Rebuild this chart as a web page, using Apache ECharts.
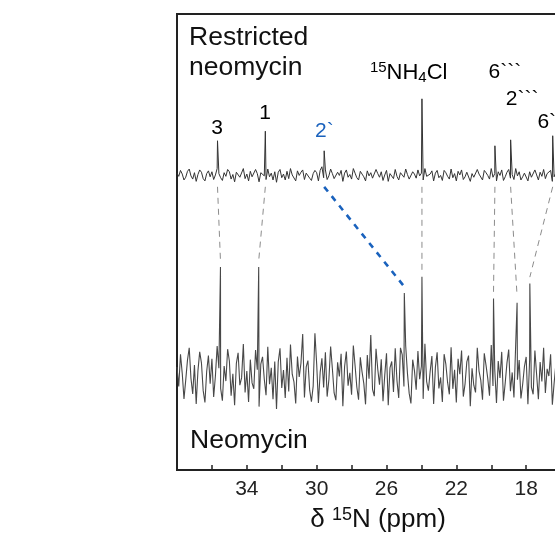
<!DOCTYPE html>
<html><head><meta charset="utf-8">
<script src="https://cdn.jsdelivr.net/npm/echarts@6/dist/echarts.min.js"></script>
<style>html,body{margin:0;padding:0;background:#fff}#c{width:555px;height:535px}</style>
</head><body><div id="c"></div>
<script>
// ---- data (ppm axis sampled from 38 ppm downward, 0.1 ppm per point) ----
const ppmStart = 38, ppmStep = 0.1;
// Restricted neomycin trace: baseline noise (arbitrary intensity units)
const topNoise = [
0.4,-0.3,1.0,0.2,-1.1,-0.5,0.8,1.3,-0.2,-0.9,0.5,-1.4,0.1,1.1,0.6,-0.8,-1.3,0.3,0.9,-0.4,
0.7,-1.0,0.0,1.4,0.3,-0.6,-1.2,0.5,-0.3,1.2,0.7,-0.9,0.1,-1.5,0.6,1.0,-0.5,-0.1,1.4,-0.8,
0.2,-1.3,0.8,-0.4,-0.7,1.2,0.3,-1.5,0.5,0.9,-0.2,-1.0,1.3,-0.4,0.4,-1.1,0.7,-1.6,0.6,1.2,
-0.6,0.2,-1.1,0.8,-0.8,1.4,0.0,-0.3,-1.3,0.9,-0.1,0.6,1.1,-1.0,0.4,0.7,-0.7,-1.2,0.3,1.0,
0.5,-1.3,1.0,1.8,-0.6,1.1,-1.0,-0.2,1.3,0.3,-0.8,-1.2,0.6,-0.1,1.0,-1.4,0.4,1.1,-0.5,0.1,
-0.9,1.4,0.4,-0.6,-1.1,0.8,0.2,-0.4,-1.3,0.9,-0.2,0.5,-0.7,-1.0,1.2,0.3,-0.5,0.7,-1.2,0.0,
1.0,-1.4,0.3,0.6,-0.8,1.2,-0.3,-1.1,0.5,0.9,-0.5,1.3,0.1,-0.9,-1.3,0.7,0.2,-0.7,1.1,-0.2,
0.4,-1.1,1.4,-0.3,-0.7,0.2,0.9,-1.3,0.4,1.0,-0.6,-0.1,-1.2,1.0,0.5,-0.3,-0.9,1.3,-0.6,0.3,
-1.3,0.8,0.0,1.1,-1.0,-0.4,0.6,0.9,-1.4,0.3,-0.5,-0.8,1.2,0.2,-0.2,-1.1,1.0,0.5,-0.1,-0.9,
1.4,-0.5,0.3,-1.3,0.7,-0.1,1.1,-1.2,-0.4,0.6,1.2,-0.7,0.1,-1.0,1.4,-0.2,0.7,-1.1,-0.4,0.4,
0.8,-1.3,0.7,-0.5,-0.9,1.1,0.0,-1.1,0.6,-0.3,1.2,-0.8,0.3,0.0,1.0,-1.4,-0.4,0.5,1.2,-0.7,
0.2
];
// Neomycin trace: baseline noise (arbitrary intensity units)
const bottomNoise = [
1.8,-2.5,4.6,0.4,-5.2,-1.1,3.3,6.0,-0.7,-4.1,2.2,-6.3,1.0,5.1,2.7,-3.4,-6.0,0.8,4.3,-1.9,
3.6,-4.8,-0.2,6.4,1.5,-2.9,-5.6,2.0,-1.3,5.7,3.1,-4.5,0.3,-6.6,2.6,4.9,-2.2,-0.6,6.8,-3.8,
0.9,-5.9,3.4,-1.7,-3.0,5.5,1.2,-6.9,2.4,4.0,-0.9,-4.4,6.2,-2.0,1.6,-5.3,3.0,-7.4,2.9,5.9,
-2.8,1.1,-5.0,3.8,-3.6,6.7,0.2,-1.5,-6.2,4.1,-0.4,2.6,9.0,-4.9,1.8,3.2,-3.3,-5.8,-2.4,9.2,
2.5,-6.1,0.6,3.7,-2.7,5.0,-4.7,-1.0,6.3,1.4,-3.9,-5.5,2.8,-0.3,4.7,-6.8,1.9,5.2,-2.3,0.5,
-4.3,6.5,2.1,-2.6,-5.4,3.9,0.7,-1.8,-6.4,4.4,-0.8,8.8,-3.1,-4.6,5.8,1.3,-2.1,3.5,-5.7,0.0,
4.8,-6.6,1.6,3.0,-3.7,5.9,-1.2,-5.0,6.0,4.5,-2.5,6.4,0.4,-4.0,-6.2,3.4,1.0,-3.2,5.3,-0.9,
2.0,-5.2,6.9,-1.4,-3.4,0.8,4.2,-6.3,1.7,5.0,-2.9,-0.5,-5.9,4.6,2.4,-1.6,-4.2,6.1,-3.0,1.2,
-6.0,3.6,0.2,5.4,-4.7,-1.9,2.9,4.3,-6.8,1.5,-2.2,-3.8,6.0,0.9,-1.1,-5.4,4.8,2.2,-0.7,-4.5,
6.6,-2.4,1.3,-6.1,3.1,-0.6,5.1,-5.6,-1.7,2.7,5.6,-3.5,0.6,-4.9,6.7,-1.0,3.3,-5.1,-2.0,1.9,
4.0,-6.4,3.5,-2.6,-4.2,5.4,0.1,-5.3,2.9,-1.4,6.0,-3.9,1.4,-0.2,4.6,-6.5,-1.8,2.4,5.6,-3.6,
1.0
];
// peaks (ppm, height above baseline)
const topPeakPpm    = [35.68, 32.94, 29.57, 23.97, 19.79, 18.89, 16.48];
const topPeakHeight = [7.5, 9.6, 5.3, 16.7, 6.4, 7.7, 8.6];
const bottomPeakPpm    = [35.51, 33.32, 24.98, 23.97, 19.87, 18.52, 17.79];
const bottomPeakHeight = [23.7, 23.7, 18.0, 21.6, 16.8, 15.9, 20.1];
const xTickLabels = [34, 30, 26, 22, 18, 14];

// ---- layout / style ----
const FONT = 'Liberation Sans, Arial, Helvetica, sans-serif';
const topOffset = 64.7, bottomOffset = 20.8;

function buildTrace(noise, peakPpm, peakH, offset) {
  const pts = noise.map((n, i) => [+(ppmStart - i * ppmStep).toFixed(2), offset + n]);
  peakPpm.forEach((p, k) => pts.push([p, offset + peakH[k]]));
  pts.sort((a, b) => b[0] - a[0]);
  return pts;
}

const series = [
  { type: 'line', data: buildTrace(topNoise, topPeakPpm, topPeakHeight, topOffset),
    symbol: 'none', silent: true, lineStyle: { color: '#333', width: 1 }, z: 3 },
  { type: 'line', data: buildTrace(bottomNoise, bottomPeakPpm, bottomPeakHeight, bottomOffset),
    symbol: 'none', silent: true, lineStyle: { color: '#484848', width: 1.1 }, z: 3 }
];

topPeakPpm.forEach((p, k) => {
  const blue = k === 2;
  series.push({
    type: 'line', symbol: 'none', silent: true, z: 2,
    data: [[p, topOffset - 2.6], [bottomPeakPpm[k], bottomOffset + bottomPeakHeight[k] + 1.4]],
    lineStyle: blue ? { color: '#1a62bd', width: 2.6, type: [6, 6] }
                    : { color: '#8c8c8c', width: 1, type: [6, 5] }
  });
});

const labelItems = [
  { value: [35.71, 74.9], txt: '3' },
  { value: [32.96, 78.2], txt: '1' },
  { value: [29.56, 74.2], txt: '2`', label: { color: '#1a62bd' } },
  { value: [24.73, 87.1], txt: '{sup|15}{m|NH}{sub|4}{m|Cl}' },
  { value: [19.22, 87.2], txt: '6```' },
  { value: [18.23, 81.3], txt: '2```' },
  { value: [16.82, 76.2], txt: '6`' }
];
series.push({
  type: 'scatter', symbolSize: 1, silent: true, z: 5,
  itemStyle: { color: '#fff', opacity: 0 },
  data: labelItems,
  label: {
    show: true, position: 'inside', formatter: p => p.data.txt,
    fontFamily: FONT, fontSize: 21, color: '#000', opacity: 1,
    textBorderWidth: 0, textShadowBlur: 0,
    rich: {
      m: { fontFamily: FONT, fontSize: 22, color: '#000' },
      sup: { fontFamily: FONT, fontSize: 15, color: '#000', padding: [0, 0, 9, 0] },
      sub: { fontFamily: FONT, fontSize: 15, color: '#000', padding: [10, 0, 0, 0] }
    }
  }
});

const chart = echarts.init(document.getElementById('c'), null, { renderer: 'canvas' });
chart.setOption({
  animation: false,
  backgroundColor: '#fff',
  grid: { left: 177, width: 419, top: 14, bottom: 65, show: true, containLabel: false,
          outerBoundsMode: 'none',
          borderColor: '#222', borderWidth: 2, backgroundColor: 'rgba(0,0,0,0)' },
  xAxis: {
    type: 'value', min: 14, max: 38, interval: 2, inverse: true,
    axisLine: { show: true, lineStyle: { color: '#222', width: 2 } },
    axisTick: { show: true, inside: true, length: 5, lineStyle: { color: '#222', width: 1.5 } },
    axisLabel: { fontFamily: FONT, fontSize: 21, color: '#222', margin: 9,
                 formatter: v => xTickLabels.includes(v) ? String(v) : '' },
    splitLine: { show: false },
    name: '{d|δ }{s|15}{n|N (ppm)}', nameLocation: 'middle', nameGap: 36,
    nameTextStyle: {
      padding: [0, 17, 0, 0],
      rich: {
        d: { fontFamily: FONT, fontSize: 26, color: '#111' },
        s: { fontFamily: FONT, fontSize: 18, color: '#111', padding: [0, 0, 9, 0] },
        n: { fontFamily: FONT, fontSize: 26, color: '#111' }
      }
    }
  },
  yAxis: { type: 'value', min: 0, max: 100, show: false },
  graphic: [
    { type: 'text', left: 189, top: 23, silent: true,
      style: { text: 'Restricted\nneomycin', fontFamily: FONT, fontSize: 26.5, lineHeight: 29.5, fill: '#111' } },
    { type: 'text', left: 190, top: 426, silent: true,
      style: { text: 'Neomycin', fontFamily: FONT, fontSize: 26.5, lineHeight: 29.5, fill: '#111' } }
  ],
  series: series
});
</script>
</body></html>
